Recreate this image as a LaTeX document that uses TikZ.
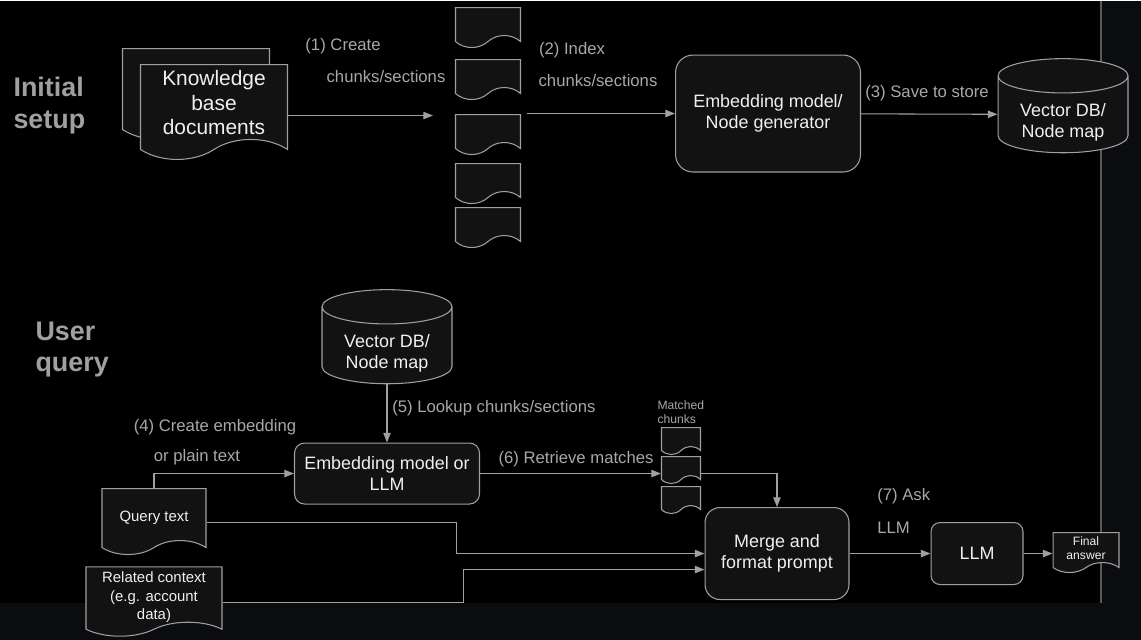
\documentclass[tikz,border=0pt]{standalone}
\usepackage{fontspec}
\setmainfont{Liberation Sans}
\usetikzlibrary{arrows.meta,shapes.geometric,shapes.symbols}
\definecolor{pagebg}{HTML}{0A0C10}
\definecolor{framegray}{HTML}{5A5A5A}
\definecolor{boxfill}{HTML}{121212}
\definecolor{edge}{HTML}{A0A0A0}
\definecolor{txt}{HTML}{F0F0F0}
\definecolor{lbltxt}{HTML}{A8A8A8}
\definecolor{ttltxt}{HTML}{A0A0A0}
\newcommand{\lowtext}[2][0.16cm]{\raisebox{-#1}[\height][\depth]{\begin{tabular}{@{}c@{}}#2\end{tabular}}}

\begin{document}
\begin{tikzpicture}[x=0.02cm,y=-0.02cm,>={Triangle[length=5.5pt,width=4.2pt]},line width=0.6pt,
    box/.style={draw=edge,fill=boxfill,text=txt,rounded corners=#1,align=center,font=\fontsize{10.2}{12}\selectfont},
    doc/.style={tape,draw=edge,fill=boxfill,text=txt,tape bend top=none,tape bend bottom=in and out,tape bend height=#1,inner sep=0pt,align=center},
    db/.style={cylinder,shape border rotate=90,aspect=0.4,draw=edge,fill=boxfill,text=txt,minimum width=2.6cm,minimum height=1.68cm,inner sep=0pt,font=\fontsize{10.2}{12}\selectfont},
    conn/.style={->,draw=edge},
    lbl/.style={text=lbltxt,inner sep=1pt,font=\fontsize{9.5}{11}\selectfont},
    title/.style={text=ttltxt,inner sep=0pt,align=left,font=\fontsize{15.3}{18}\selectfont\bfseries}]
    \fill[pagebg] (0,0) rectangle (1141,639);
    \fill[black] (0,0) rectangle (1101,602);
    \draw[framegray] (1101,0) -- (1101,602);

    \node[title,anchor=west] (init) at (13,105) {Initial\\setup};
    \node[title,anchor=west] (user) at (35,349) {User\\query};

    \node[doc=0.4cm,minimum width=2.94cm,minimum height=1.82cm] (kbback) at (196,83.5) {};
    \node[doc=0.4cm,minimum width=2.94cm,minimum height=1.82cm,font=\fontsize{11.9}{14.2}\selectfont] (kb) at (214,101.5) {\lowtext[0.06cm]{Knowledge\\base\\documents}};
    \node[doc=0.24cm,minimum width=1.3cm,minimum height=0.8cm] (ch1) at (488,21) {};
    \node[doc=0.24cm,minimum width=1.3cm,minimum height=0.8cm] (ch2) at (488,73) {};
    \node[doc=0.24cm,minimum width=1.3cm,minimum height=0.8cm] (ch3) at (488,128) {};
    \node[doc=0.24cm,minimum width=1.3cm,minimum height=0.8cm] (ch4) at (488,177) {};
    \node[doc=0.24cm,minimum width=1.3cm,minimum height=0.8cm] (ch5) at (488,221) {};
    \coordinate (c1) at (433,115);
    \coordinate (c2) at (527,113);
    \node[box=0.35cm,minimum width=3.7cm,minimum height=2.34cm] (emb1) at (768,113) {Embedding model/\\Node generator};
    \node[db] (db1) at (1063,114) {\lowtext{Vector DB/\\Node map}};

    \draw[conn] (kb.east |- c1) -- (c1);
    \draw[conn] (c2) -- (emb1.west);
    \draw[conn] (emb1) -- (db1);
    \node[lbl] (l1a) at (343,46) {(1) Create};
    \node[lbl] (l1b) at (386,76) {chunks/sections};
    \node[lbl] (l2a) at (572,50) {(2) Index};
    \node[lbl] (l2b) at (598,80) {chunks/sections};
    \node[lbl] (l3) at (927,93) {(3) Save to store};

    \node[db] (db2) at (387,345) {\lowtext{Vector DB/\\Node map}};
    \node[box=0.2cm,minimum width=3.7cm,minimum height=1.22cm] (emb2) at (387,473) {Embedding model or\\LLM};
    \node[doc=0.28cm,minimum width=2.08cm,minimum height=1.32cm,font=\fontsize{8.5}{10.5}\selectfont] (qt) at (154,514) {\lowtext[0.06cm]{Query text}};
    \node[doc=0.28cm,minimum width=2.72cm,minimum height=1.32cm,font=\fontsize{8.5}{10.5}\selectfont] (rc) at (154,594) {\lowtext[0.06cm]{Related context\\(e.g. account\\data)}};
    \node[doc=0.16cm,minimum width=0.78cm,minimum height=0.54cm] (m1) at (681,436.5) {};
    \node[doc=0.16cm,minimum width=0.78cm,minimum height=0.54cm] (m2) at (681,465.5) {};
    \node[doc=0.16cm,minimum width=0.78cm,minimum height=0.54cm] (m3) at (681,495.5) {};
    \node[text=lbltxt,inner sep=0pt,align=left,anchor=north west,font=\fontsize{6.9}{8}\selectfont] (mlbl) at (657,400) {Matched\\chunks};
    \node[box=0.3cm,minimum width=2.88cm,minimum height=1.84cm] (merge) at (777,553) {Merge and\\format prompt};
    \node[box=0.18cm,minimum width=1.84cm,minimum height=1.24cm] (llm) at (977,553) {LLM};
    \node[doc=0.2cm,minimum width=1.32cm,minimum height=0.8cm,font=\fontsize{6.9}{8}\selectfont] (fa) at (1086,547) {\lowtext[0.05cm]{Final\\answer}};

    \draw[conn] (db2) -- (emb2);
    \draw[conn] (qt.north) |- (emb2.west);
    \draw[conn] (emb2.east) -- (emb2.east -| m2.west);
    \draw[conn] (emb2.east -| m2.east) -| (merge.north);
    \draw[conn] ([yshift=-0.16cm]qt.east) -- ++(250,0) |- (merge.west);
    \draw[conn] ([yshift=-0.16cm]rc.east) -- ++(241,0) |- ([yshift=-0.32cm]merge.west);
    \draw[conn] (merge) -- (llm);
    \draw[conn] (llm) -- (llm.east -| fa.west);
    \node[lbl,anchor=west] (l5) at (390,408) {(5) Lookup chunks/sections};
    \node[lbl] (l4a) at (215,427) {(4) Create embedding};
    \node[lbl] (l4b) at (197,457) {or plain text};
    \node[lbl] (l6) at (576,459) {(6) Retrieve matches};
    \node[lbl,anchor=west] (l7a) at (875,496) {(7) Ask};
    \node[lbl,anchor=west] (l7b) at (875,527) {LLM};
\end{tikzpicture}
\end{document}
